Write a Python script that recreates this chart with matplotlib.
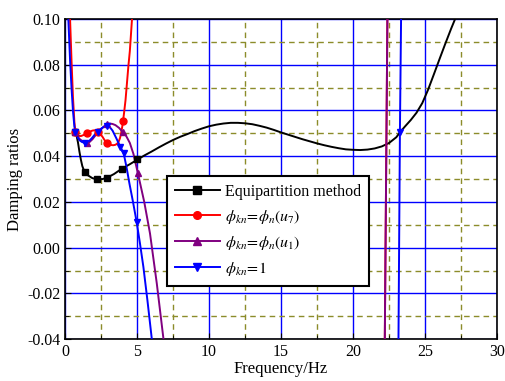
import numpy as np
import matplotlib
matplotlib.use("Agg")
import matplotlib.pyplot as plt
from matplotlib.lines import Line2D
from matplotlib.ticker import MultipleLocator, FormatStrFormatter

plt.rcParams['font.family'] = ['Liberation Serif', 'DejaVu Serif']
plt.rcParams['mathtext.fontset'] = 'stix'

# curves (frequency in Hz, damping ratio); nan breaks a branch
eq_x = [0.72, 0.8, 0.9, 1.0, 1.1, 1.2, 1.3, 1.41, 1.6, 1.9, 2.2, 2.6, 2.92, 3.4, 3.91, 4.5, 5.05,
        5.5, 6.0, 6.5, 7.0, 7.5, 8.0, 8.5, 9.0, 9.5, 10.0, 10.5, 11.0, 11.5, 12.0, 12.5, 13.0,
        13.5, 14.0, 14.5, 15.0, 15.5, 16.0, 16.5, 17.0, 17.5, 18.0, 18.5, 19.0, 19.5, 20.0,
        20.5, 21.0, 21.5, 22.0, 22.5, 23.0, 23.26, 23.6, 24.0, 24.4, 24.8, 25.2, 25.6, 26.0,
        26.4, 26.8, 27.08]
eq_y = [0.0507, 0.0490, 0.0460, 0.0420, 0.0385, 0.0357, 0.0340, 0.0330, 0.0316, 0.0304, 0.0299, 0.0300, 0.0306, 0.0322, 0.0344, 0.0365, 0.0386,
        0.0403, 0.0420, 0.0438, 0.0455, 0.0471, 0.0485, 0.0497, 0.0510, 0.0521, 0.0531, 0.0538, 0.0543, 0.0546, 0.0546, 0.0544, 0.0540,
        0.0533, 0.0525, 0.0515, 0.0504, 0.0494, 0.0484, 0.0474, 0.0465, 0.0456, 0.0448, 0.0441, 0.0435, 0.0430, 0.0428,
        0.0427, 0.0429, 0.0434, 0.0443, 0.0458, 0.0483, 0.0505, 0.0530, 0.0558, 0.0590, 0.0632, 0.0690, 0.0757, 0.0825,
        0.0892, 0.0957, 0.1000]
eq_mx = [0.72, 1.39, 2.2, 2.94, 3.93, 5.02]
eq_my = [0.0507, 0.0330, 0.0300, 0.0306, 0.0344, 0.0388]

u7_x = [0.35, 0.45, 0.55, 0.65, 0.72, 0.8, 0.95, 1.1, 1.3, 1.5, 1.7, 1.9, 2.1, 2.3, 2.45, 2.6, 2.75, 2.9, 3.05, 3.2,
        3.35, 3.5, 3.62, 3.72, 3.82, 3.9, 3.97, 4.03, 4.1, 4.2, 4.3, 4.4, 4.5, 4.65,
        np.nan, 22.2, 22.38]
u7_y = [0.100, 0.082, 0.066, 0.055, 0.0507, 0.0496, 0.0489, 0.0488, 0.0493, 0.0500, 0.0507, 0.0512, 0.0514, 0.0507, 0.0497, 0.0485, 0.0470, 0.0458, 0.0452, 0.0449,
        0.0448, 0.0450, 0.0455, 0.0463, 0.0480, 0.0503, 0.0528, 0.0555, 0.0590, 0.0645, 0.0720, 0.0795, 0.0860, 0.100,
        np.nan, -0.04, 0.10]
u7_mx = [0.72, 1.53, 2.29, 2.92, 4.03]
u7_my = [0.0507, 0.0500, 0.0507, 0.0456, 0.0555]

u1_x = [0.72, 0.85, 1.0, 1.18, 1.35, 1.53, 1.7, 1.9, 2.1, 2.35, 2.57, 2.75, 2.92, 3.1, 3.3, 3.5, 3.75, 4.03, 4.25,
        4.5, 4.75, 5.05, 5.5, 5.9, 6.37, 6.83,
        np.nan, 22.2, 22.38]
u1_y = [0.0507, 0.0490, 0.0476, 0.0467, 0.0460, 0.0456, 0.0462, 0.0474, 0.0490, 0.0508, 0.0522, 0.0533, 0.0540, 0.0543, 0.0541, 0.0536, 0.0524, 0.0504, 0.0488,
        0.0458, 0.0410, 0.0328, 0.0200, 0.0062, -0.0156, -0.0397,
        np.nan, -0.04, 0.10]
u1_mx = [0.72, 1.53, 2.92, 4.03, 5.05]
u1_my = [0.0507, 0.0456, 0.0540, 0.0504, 0.0328]

one_x = [0.23, 0.35, 0.45, 0.55, 0.65, 0.72, 0.85, 1.0, 1.18, 1.4, 1.6, 1.85, 2.1, 2.27, 2.45, 2.65, 2.92, 3.1, 3.3,
         3.55, 3.84, 4.07, 4.27, 4.47, 4.72, 4.97, 5.2, 5.44, 5.72, 6.02,
         np.nan, 23.15, 23.25, 23.33]
one_y = [0.100, 0.082, 0.070, 0.060, 0.053, 0.0507, 0.0485, 0.0470, 0.0462, 0.0458, 0.0462, 0.0478, 0.0497, 0.0507, 0.0518, 0.0527, 0.0532, 0.0528, 0.0512,
         0.0480, 0.0441, 0.0413, 0.0352, 0.0281, 0.0200, 0.0113, 0.0020, -0.0084, -0.0230, -0.0397,
         np.nan, -0.04, 0.0507, 0.10]
one_mx = [0.72, 1.39, 2.27, 2.92, 3.84, 4.07, 4.97, 23.25]
one_my = [0.0507, 0.0458, 0.0507, 0.0532, 0.0441, 0.0413, 0.0113, 0.0507]

labels = ['Equipartition method',
          r'$\phi_{kn}\!=\!\phi_n(u_7)$',
          r'$\phi_{kn}\!=\!\phi_n(u_1)$',
          r'$\phi_{kn}\!=\!1$']
colors = ['black', 'red', 'purple', 'blue']
markers = ['s', 'o', '^', 'v']

fig = plt.figure(figsize=(5.06, 3.81), dpi=100)
ax = fig.add_axes([0.1285, 0.110, 0.854, 0.840])

curves = [(eq_x, eq_y, eq_mx, eq_my), (u7_x, u7_y, u7_mx, u7_my),
          (u1_x, u1_y, u1_mx, u1_my), (one_x, one_y, one_mx, one_my)]
for (x, y, mx, my), c, m in zip(curves, colors, markers):
    ax.plot(x, y, color=c, lw=1.4, zorder=3)
    ax.plot(mx, my, ls='none', marker=m, color=c, ms=5, zorder=4)

ax.set_xlim(0, 30)
ax.set_ylim(-0.04, 0.10)
ax.xaxis.set_major_locator(MultipleLocator(5))
ax.xaxis.set_minor_locator(MultipleLocator(2.5))
ax.yaxis.set_major_locator(MultipleLocator(0.02))
ax.yaxis.set_minor_locator(MultipleLocator(0.01))
ax.yaxis.set_major_formatter(FormatStrFormatter('%.2f'))
ax.grid(which='major', color='blue', lw=1.0, ls='-')
ax.grid(which='minor', color='#8c8c2a', lw=1.0, ls=(0, (4, 3)))
ax.set_axisbelow(True)
ax.tick_params(which='both', direction='in', labelsize=11.5)
ax.tick_params(which='major', length=4)
ax.tick_params(which='minor', length=3)
for s in ax.spines.values():
    s.set_linewidth(1.2)

ax.set_xlabel('Frequency/Hz', fontsize=12, labelpad=1)
ax.set_ylabel('Damping ratios', fontsize=12, labelpad=3)

handles = [Line2D([], [], color=c, marker=m, lw=1.4, ms=5.5) for c, m in zip(colors, markers)]
leg = ax.legend(handles, labels, loc='lower left', bbox_to_anchor=(0.236, 0.166),
                fontsize=11.5, fancybox=False, edgecolor='black', framealpha=1,
                handlelength=2.8, borderpad=0.5, labelspacing=0.5, handletextpad=0.3,
                borderaxespad=0)
leg.get_frame().set_linewidth(1.5)

fig.savefig('out.png', dpi=100)
